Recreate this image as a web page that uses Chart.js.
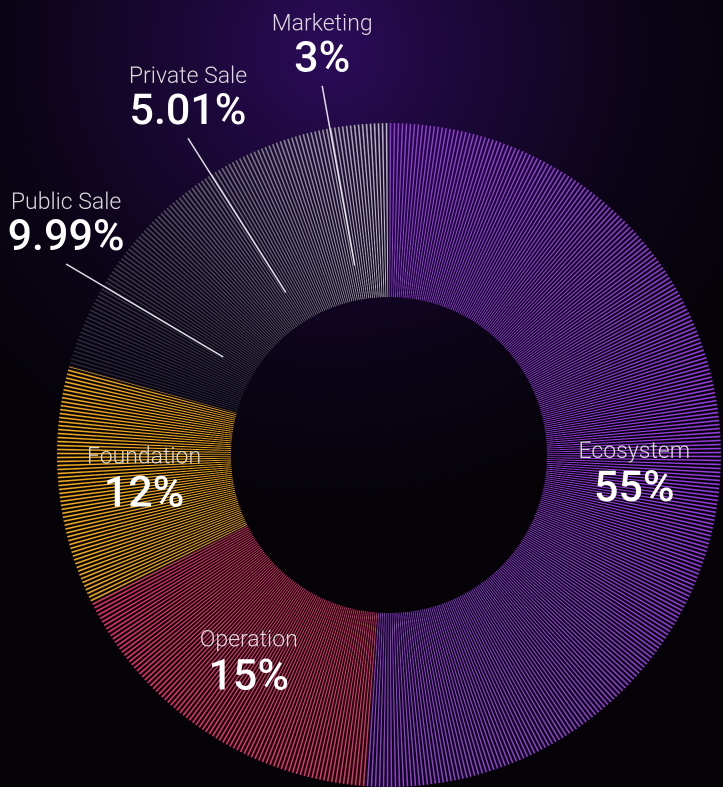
<!DOCTYPE html>
<html>
<head>
<meta charset="utf-8">
<script src="https://cdn.jsdelivr.net/npm/chart.js@4.4.1/dist/chart.umd.min.js"></script>
<style>
  html, body { margin: 0; padding: 0; }
  body {
    width: 723px; height: 787px; overflow: hidden;
    background: radial-gradient(circle at 330px 50px, #2c0b5a 0px, #1b0838 140px, #0b0416 320px, #050308 460px);
  }
  canvas { display: block; }
</style>
</head>
<body>
<canvas id="token-chart" width="723" height="787"></canvas>
<script>
// Token allocation
const categories = ['Ecosystem', 'Operation', 'Foundation', 'Public Sale', 'Private Sale', 'Marketing'];
const percentLabels = ['55%', '15%', '12%', '9.99%', '5.01%', '3%'];
// slice sizes as drawn (share of the ring, %)
const arcShares = [51.1, 16.5, 11.7, 8.4, 6.6, 5.7];

// styling
const lineColors = ['rgb(148,60,220)', 'rgb(232,50,108)', 'rgb(238,168,34)', 'gray', 'gray', 'gray'];
const grayFrom = [40, 38, 56];
const grayTo = [188, 186, 194];
const STRIPES = 520;

function grayAt(a) {
  // the grey slices fade from dark (left) to light (top)
  let t = (a - 0.79) / 0.21;
  t = Math.pow(Math.max(0, Math.min(1, t)), 1.5);
  const c = grayFrom.map((v, k) => Math.round(v + (grayTo[k] - v) * t));
  return 'rgb(' + c.join(',') + ')';
}

function stripes(chart, index) {
  const area = chart.chartArea;
  if (!area) return lineColors[index] === 'gray' ? '#666' : lineColors[index];
  const cx = (area.left + area.right) / 2;
  const cy = (area.top + area.bottom) / 2;
  const g = chart.ctx.createConicGradient(-Math.PI / 2, cx, cy);
  const p = 1 / STRIPES;
  for (let i = 0; i < STRIPES; i++) {
    const a = i * p;
    const c = lineColors[index] === 'gray' ? grayAt(a + p / 2) : lineColors[index];
    g.addColorStop(a, 'rgba(0,0,0,0)');
    g.addColorStop(a + 0.3 * p, c);
    g.addColorStop(a + 0.5 * p, c);
    g.addColorStop(a + 0.8 * p, 'rgba(0,0,0,0)');
  }
  return g;
}

const sliceLabels = {
  id: 'sliceLabels',
  afterDatasetsDraw(chart) {
    const ctx = chart.ctx;
    const meta = chart.getDatasetMeta(0);
    ctx.save();
    ctx.textAlign = 'center';
    ctx.textBaseline = 'middle';
    meta.data.forEach((arc, i) => {
      const { x, y, startAngle, endAngle, outerRadius } =
        arc.getProps(['x', 'y', 'startAngle', 'endAngle', 'outerRadius'], true);
      let nx, ny, px, py;
      if (i < 3) {
        const mid = (startAngle + endAngle) / 2 + 0.02;
        const r = outerRadius * 0.74;
        const cy = y + Math.sin(mid) * r + 3;
        nx = px = x + Math.cos(mid) * r;
        ny = cy - 19;
        py = cy + 19;
      } else {
        const mid = (startAngle + endAngle) / 2;
        const cos = Math.cos(mid), sin = Math.sin(mid);
        const r1 = outerRadius * 0.58, r2 = outerRadius * 1.13;
        const sx = x + cos * r2, sy = y + sin * r2;
        ctx.strokeStyle = 'rgba(235,235,240,0.95)';
        ctx.lineWidth = 1.5;
        ctx.beginPath();
        ctx.moveTo(sx, sy);
        ctx.lineTo(x + cos * r1, y + sin * r1);
        ctx.stroke();
        nx = px = sx;
        ny = sy - 61;
        py = sy - 25;
      }
      ctx.fillStyle = '#dcdcdc';
      ctx.font = '300 23px Roboto';
      ctx.fillText(categories[i], nx, ny);
      ctx.fillStyle = '#ffffff';
      ctx.font = '500 43px Roboto';
      ctx.fillText(percentLabels[i], px, py);
    });
    ctx.restore();
  }
};

const ctx = document.getElementById('token-chart').getContext('2d');

const chart = new Chart(ctx, {
  type: 'doughnut',
  data: {
    labels: categories,
    datasets: [{
      data: arcShares,
      backgroundColor: (c) => stripes(c.chart, c.dataIndex),
      borderWidth: 0
    }]
  },
  options: {
    responsive: false,
    animation: false,
    devicePixelRatio: 2,
    cutout: '47.6%',
    layout: { padding: { left: 57, right: 2, top: 123, bottom: 0 } },
    plugins: {
      legend: { display: false },
      tooltip: { enabled: false }
    }
  },
  plugins: [sliceLabels]
});
</script>
</body>
</html>
